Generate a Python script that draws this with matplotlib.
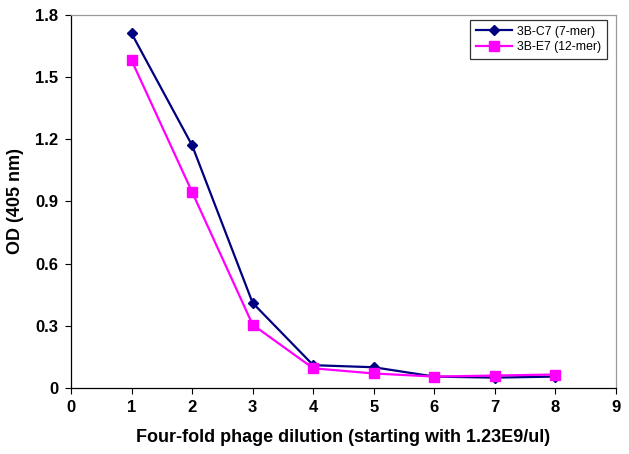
import matplotlib
matplotlib.use("Agg")
import matplotlib.pyplot as plt

dilution = [1, 2, 3, 4, 5, 6, 7, 8]
c7_values = [1.71, 1.17, 0.41, 0.11, 0.10, 0.055, 0.05, 0.055]
e7_values = [1.58, 0.945, 0.305, 0.095, 0.07, 0.055, 0.06, 0.065]
series_labels = ["3B-C7 (7-mer)", "3B-E7 (12-mer)"]
x_ticks = [0, 1, 2, 3, 4, 5, 6, 7, 8, 9]
y_ticks = [0, 0.3, 0.6, 0.9, 1.2, 1.5, 1.8]
y_tick_labels = ["0", "0.3", "0.6", "0.9", "1.2", "1.5", "1.8"]

plt.rcParams['font.family'] = ['Liberation Sans', 'DejaVu Sans']

fig = plt.figure(figsize=(6.29, 4.54), dpi=100)
ax = fig.add_axes([0.1129, 0.1454, 0.9793 - 0.1129, 0.9676 - 0.1454])

ax.plot(dilution, c7_values, color='#000080', marker='D', markersize=5,
        linewidth=1.6, label=series_labels[0])
ax.plot(dilution, e7_values, color='#FF00FF', marker='s', markersize=6.5,
        linewidth=1.6, label=series_labels[1])

ax.set_xlim(0, 9)
ax.set_ylim(0, 1.8)
ax.set_xticks(x_ticks)
ax.set_yticks(y_ticks)
ax.set_yticklabels(y_tick_labels)
ax.tick_params(axis='both', direction='out', length=4, width=0.8,
               labelsize=12, pad=5)
for lbl in ax.get_xticklabels() + ax.get_yticklabels():
    lbl.set_fontweight('bold')

ax.spines['left'].set_color('black')
ax.spines['bottom'].set_color('black')
ax.spines['top'].set_color('#999999')
ax.spines['right'].set_color('#999999')
for s in ax.spines.values():
    s.set_linewidth(0.9)

ax.set_xlabel("Four-fold phage dilution (starting with 1.23E9/ul)",
              fontsize=13, fontweight='bold', labelpad=10)
ax.set_ylabel("OD (405 nm)", fontsize=13, fontweight='bold', labelpad=8)

leg = ax.legend(loc='upper right', bbox_to_anchor=(0.99, 0.995),
                fontsize=8.8, frameon=True, fancybox=False,
                edgecolor='black', borderpad=0.45, handlelength=3.0,
                labelspacing=0.3, borderaxespad=0.3, handletextpad=0.4)
leg.get_frame().set_linewidth(0.9)

fig.savefig("out.png", dpi=100)
